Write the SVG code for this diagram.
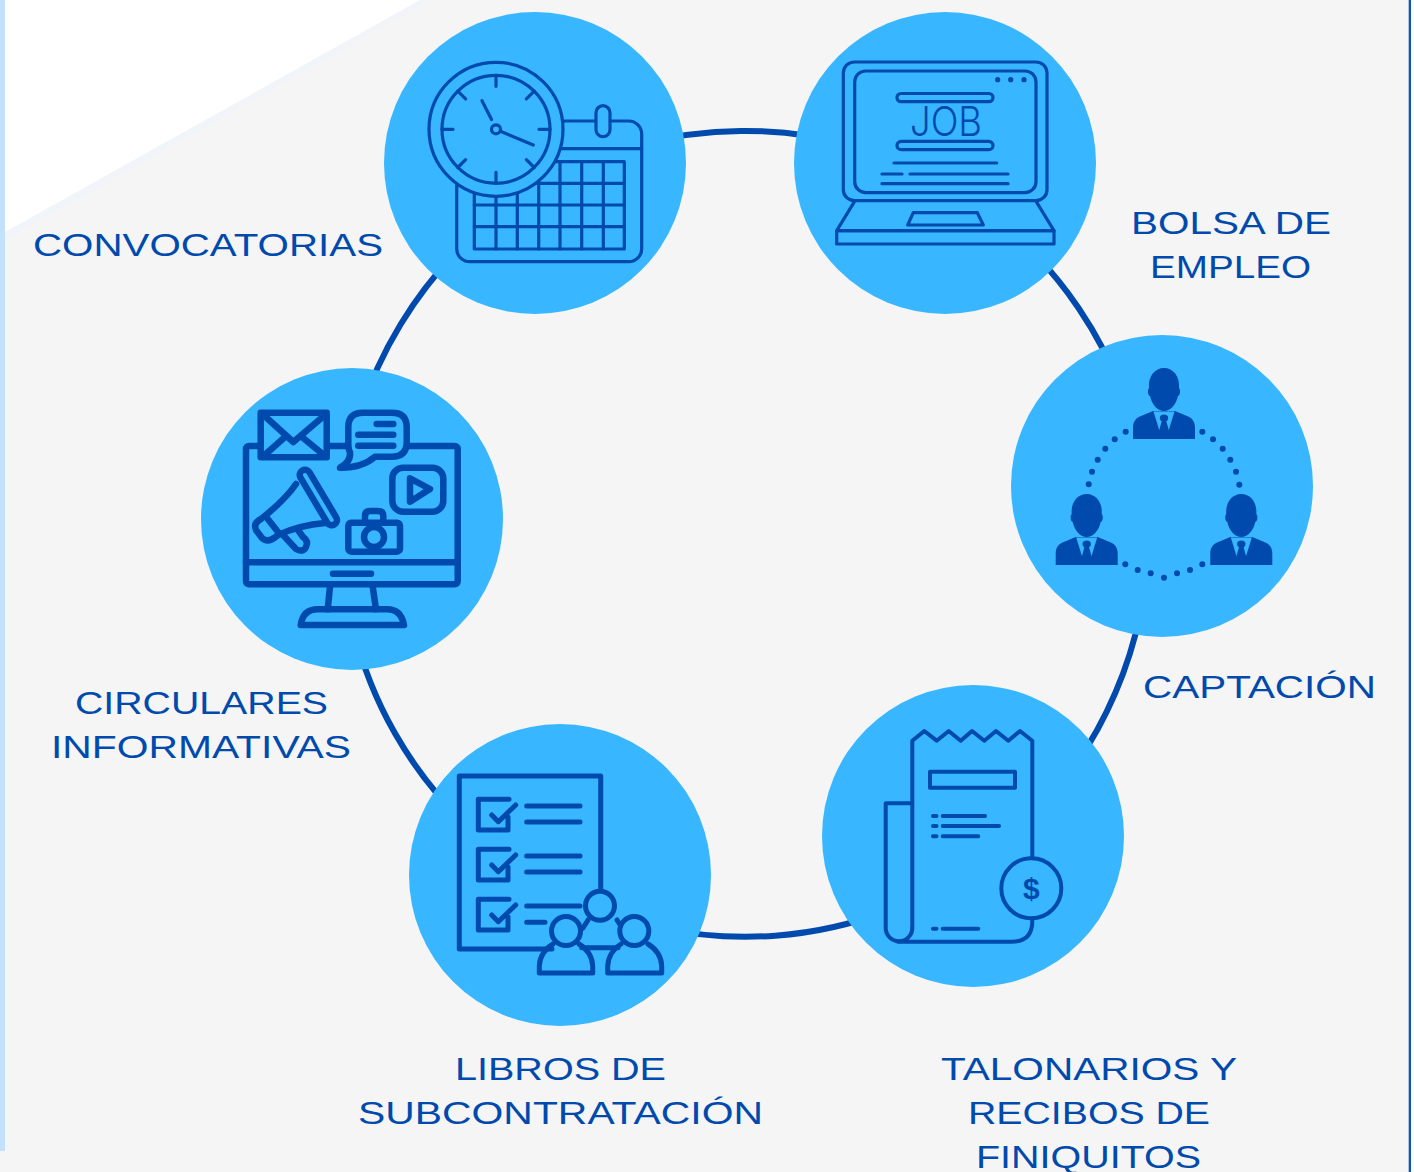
<svg xmlns="http://www.w3.org/2000/svg" width="1414" height="1172" viewBox="0 0 1414 1172">
<style>
.c{fill:#38b6ff}
.i{fill:none;stroke:#004aad;stroke-width:3.2;stroke-linecap:round;stroke-linejoin:round}
.if{fill:#38b6ff;stroke:#004aad;stroke-width:3.2;stroke-linejoin:round}
.m{fill:none;stroke:#004aad;stroke-width:6.5;stroke-linecap:round;stroke-linejoin:round}
.mf{fill:#38b6ff;stroke:#004aad;stroke-width:6.5;stroke-linecap:round;stroke-linejoin:round}
.k{fill:none;stroke:#004aad;stroke-width:5;stroke-linecap:round;stroke-linejoin:round}
.kf{fill:#38b6ff;stroke:#004aad;stroke-width:5;stroke-linecap:round;stroke-linejoin:round}
.r{fill:none;stroke:#004aad;stroke-width:4;stroke-linecap:round;stroke-linejoin:round}
.rf{fill:#38b6ff;stroke:#004aad;stroke-width:4;stroke-linejoin:round}
.d{fill:#004aad}
.l{fill:#004aad;font-family:"Liberation Sans",Arial,sans-serif;font-size:32px}
.ring{fill:none;stroke:#004aad;stroke-width:6}
</style>
<defs>
<g id="person">
<path class="d" d="M-15,20C-16,8 -9,0 0,0C9,0 16,8 15,20C17,22 16,28 14,28C12,37 6,43 0,43C-6,43 -12,37 -14,28C-16,28 -17,22 -15,20Z"/>
<path class="d" d="M-31,71V60C-31,53 -28,50 -23,48L-11,43L11,43L23,48C28,50 31,53 31,60V71Z"/>
<path class="c" d="M-10.500,43.500H10.500L4.500,63H-4.500Z"/>
<ellipse class="d" cx="0" cy="50" rx="4.200" ry="3.500"/>
<path class="d" d="M-2,52H2L5,63H-5Z"/>
</g>
<g id="check">
<path class="k" d="M509,799.300H478.300V830H508V817"/>
<path class="k" stroke-width="5.500" d="M491.700,815L498.300,821.700L515.700,805"/>
</g>
</defs>
<rect width="1414" height="1172" fill="#f5f5f5"/>
<rect x="1411" width="3" height="1172" fill="#fafafa"/>
<path d="M5,0H430L5,240Z" fill="#f1f4f9"/>
<path d="M5,0H420L5,232Z" fill="#ffffff"/>
<rect width="5" height="1151" fill="#c4e1fb"/>
<rect x="1408.700" width="2.300" height="1172" fill="#0f55b5"/>
<g id="connectors">
<path class="ring" d="M546.400,183A403,403 0 0 1 936,179.300"/>
<path class="ring" d="M936,179.300A403,403 0 0 1 1145.300,488"/>
<path class="ring" d="M1145.300,488A403,403 0 0 1 987.800,855.600"/>
<path class="ring" d="M987.800,855.600A403,403 0 0 1 553,888"/>
<path class="ring" d="M553,888A403,403 0 0 1 342.300,518.600"/>
<path class="ring" d="M342.300,518.600A403,403 0 0 1 546.400,183"/>
</g>
<g id="node-convocatorias">
<circle class="c" cx="535" cy="163" r="151"/>
<rect class="i" x="456.700" y="121" width="185" height="140.700" rx="13"/>
<path class="i" d="M456.700,148.700H641.700"/>
<rect class="if" x="596" y="105.700" width="14" height="31" rx="7"/>
<rect class="i" x="474.300" y="161.700" width="150" height="87.300"/>
<path class="i" d="M496,161.700V249M517.300,161.700V249M538.700,161.700V249M560,161.700V249M581.700,161.700V249M603.300,161.700V249M474.300,183.300H624.300M474.300,205H624.300M474.300,226.700H624.300"/>
<circle class="if" cx="496" cy="129.300" r="67"/>
<circle class="i" cx="496" cy="129.300" r="54"/>
<path class="i" d="M496,75.300V86.300M496,172.300V183.300M442,129.300H453M539,129.300H550M457.800,91.100L465.600,98.900M526.400,159.700L534.200,167.500M534.200,91.100L526.400,98.900M465.600,159.700L457.800,167.500M491.500,119.500L482,100.700M501,131.500L533.300,145"/>
<circle class="i" cx="496" cy="129.300" r="4.500"/>
<text class="l" x="33" y="256" textLength="350" lengthAdjust="spacingAndGlyphs">CONVOCATORIAS</text>
</g>
<g id="node-bolsa">
<circle class="c" cx="945" cy="163" r="151"/>
<rect class="i" x="843.300" y="62" width="203.700" height="138.700" rx="11"/>
<rect class="i" x="854.700" y="71" width="181.300" height="121.700" rx="11"/>
<circle class="d" cx="997.700" cy="79.700" r="2.600"/>
<circle class="d" cx="1010.700" cy="79.700" r="2.600"/>
<circle class="d" cx="1024" cy="79.700" r="2.600"/>
<rect class="i" x="897" y="93.500" width="96" height="8.200" rx="4.100"/>
<rect class="i" x="897" y="141.300" width="96" height="8.400" rx="4.200"/>
<text x="910" y="136" textLength="72" lengthAdjust="spacingAndGlyphs" font-family="Inter,'Liberation Sans',sans-serif" font-weight="300" font-size="41" fill="#004aad">JOB</text>
<path class="i" d="M894,163H996.700M882,174H902M910,174H1008M882,183.700H1008"/>
<path class="i" d="M854,202.300L836.700,230.700H1054L1036.700,202.300"/>
<rect class="i" x="836.700" y="230.700" width="217.300" height="13.300"/>
<path class="i" d="M913.300,212.700H977.300L983.300,225H907.700Z"/>
<text class="l" x="1131" y="234" textLength="200" lengthAdjust="spacingAndGlyphs">BOLSA DE</text>
<text class="l" x="1150" y="278" textLength="161" lengthAdjust="spacingAndGlyphs">EMPLEO</text>
</g>
<g id="node-captacion">
<circle class="c" cx="1162" cy="486" r="151"/>
<use href="#person" x="1164" y="368"/>
<use href="#person" x="1086.700" y="494"/>
<use href="#person" x="1241.300" y="494"/>
<g class="d">
<circle cx="1125.700" cy="431.700" r="3"/><circle cx="1114.700" cy="439.300" r="3"/><circle cx="1105.300" cy="448.700" r="3"/><circle cx="1097.700" cy="459.700" r="3"/><circle cx="1092" cy="471.700" r="3"/><circle cx="1088.700" cy="484.300" r="3"/>
<circle cx="1202.300" cy="431.700" r="3"/><circle cx="1213" cy="439.300" r="3"/><circle cx="1222.700" cy="448.700" r="3"/><circle cx="1230.300" cy="459.700" r="3"/><circle cx="1236" cy="471.700" r="3"/><circle cx="1239.300" cy="484.700" r="3"/>
<circle cx="1125.300" cy="564.300" r="3"/><circle cx="1137.700" cy="570" r="3"/><circle cx="1150.700" cy="573.300" r="3"/><circle cx="1164" cy="577.700" r="3"/><circle cx="1177" cy="573.300" r="3"/><circle cx="1190" cy="570" r="3"/><circle cx="1202.300" cy="564.300" r="3"/>
</g>
<text class="l" x="1143" y="698" textLength="233" lengthAdjust="spacingAndGlyphs">CAPTACIÓN</text>
</g>
<g id="node-talonarios">
<circle class="c" cx="973" cy="836" r="151"/>
<path class="r" d="M912.300,928V740.700L924.300,731L936.700,740.700L948.700,731L960.700,740.700L972,731L984.300,740.700L996,731L1008.300,740.700L1020,731L1032.300,740.700V921Q1032.300,941.700 1012,941.700H898"/>
<path class="r" d="M912.300,803.300H885.700V928A13.300,13.300 0 0 0 912.300,928"/>
<rect class="r" x="930" y="771.700" width="85" height="16"/>
<path class="r" d="M933,816H936.500M942.700,816H985M933,826H936.500M942.700,826H999M933,836.300H936.500M942.700,836.300H978.300M933,928.700H936.500M942.700,928.700H978.300"/>
<circle class="rf" cx="1031.300" cy="888.300" r="30"/>
<text x="1031.300" y="899" text-anchor="middle" font-family="'Liberation Sans',Arial,sans-serif" font-weight="700" font-size="30" fill="#004aad">$</text>
<text class="l" x="941" y="1080" textLength="296" lengthAdjust="spacingAndGlyphs">TALONARIOS Y</text>
<text class="l" x="968" y="1124" textLength="242" lengthAdjust="spacingAndGlyphs">RECIBOS DE</text>
<text class="l" x="976" y="1168" textLength="225" lengthAdjust="spacingAndGlyphs">FINIQUITOS</text>
</g>
<g id="node-libros">
<circle class="c" cx="560" cy="875" r="151"/>
<path class="k" d="M600.700,891V776H459.300V949H552"/>
<use href="#check"/>
<use href="#check" y="50"/>
<use href="#check" y="100"/>
<path class="k" d="M526.700,806H580M526.700,822H580M526.700,856H580M526.700,872H580M526.700,906H580M526.700,922.300H545"/>
<path class="k" d="M583,928L588,920M617,920L622,928M581.700,947.700H618"/>
<circle class="kf" cx="600" cy="905.700" r="14.500"/>
<circle class="kf" cx="566" cy="931" r="14.500"/>
<circle class="kf" cx="634.300" cy="931" r="14.500"/>
<path class="k" d="M553,944Q540,952 539.300,966V973H592.700V966Q592,952 579,944"/>
<path class="k" d="M621,944Q608.500,952 607.700,966V973H661.700V966Q661,952 648,944"/>
<text class="l" x="455" y="1080" textLength="211" lengthAdjust="spacingAndGlyphs">LIBROS DE</text>
<text class="l" x="358" y="1124" textLength="405" lengthAdjust="spacingAndGlyphs">SUBCONTRATACIÓN</text>
</g>
<g id="node-circulares">
<circle class="c" cx="352" cy="519" r="151"/>
<rect class="m" x="246" y="446" width="211.700" height="138.300" rx="3"/>
<path class="m" d="M246,562.300H457.700M333,573.700H371M330,586.700L327.700,609.300M372.700,586.700L376,609.300"/>
<path class="m" d="M300.700,625Q303,609.300 318,609.300H387Q401,609.300 404,625Z"/>
<rect class="mf" x="260.700" y="412.700" width="66" height="44.600"/>
<path class="m" stroke-width="4.500" d="M263.500,415L293.300,442L325,415M263.500,456L285,437M325,456L302,437"/>
<path class="mf" d="M363,412.700H392Q406.700,412.700 406.700,427V442Q406.700,456.700 392,456.700H375Q362,468 340,467.700Q351,462 350,452Q348.300,450 348.300,442V427Q348.300,412.700 363,412.700Z"/>
<path class="m" d="M376.700,424H393.300M358.300,434.700H393.300M358.300,445.700H393.300"/>
<rect class="m" x="392.300" y="467.700" width="51" height="44" rx="11"/>
<path class="m" d="M410,478.300L430,489L410,501.700Z"/>
<path class="m" d="M365,522.700V516Q365,511 370,511H378Q383.300,511 383.300,516V522.700"/>
<rect class="m" x="348.300" y="522.700" width="51.700" height="29" rx="3"/>
<circle class="mf" cx="374" cy="537" r="10"/>
<path class="m" d="M296,484Q285,500 261,519Q253,523 256,530L262,538Q268,544 278,535Q300,525 325,523"/>
<path class="m" stroke-width="4.500" d="M267,518L278,532"/>
<path class="m" d="M283,535L296,549Q303,553 306,547Q309,541 303,537L298,530"/>
<line x1="305" y1="475" x2="331.700" y2="520" stroke="#004aad" stroke-width="17" stroke-linecap="round"/>
<line x1="305" y1="475" x2="331.700" y2="520" stroke="#38b6ff" stroke-width="4" stroke-linecap="round"/>
<text class="l" x="75" y="714" textLength="253" lengthAdjust="spacingAndGlyphs">CIRCULARES</text>
<text class="l" x="51" y="758" textLength="300" lengthAdjust="spacingAndGlyphs">INFORMATIVAS</text>
</g>
</svg>
